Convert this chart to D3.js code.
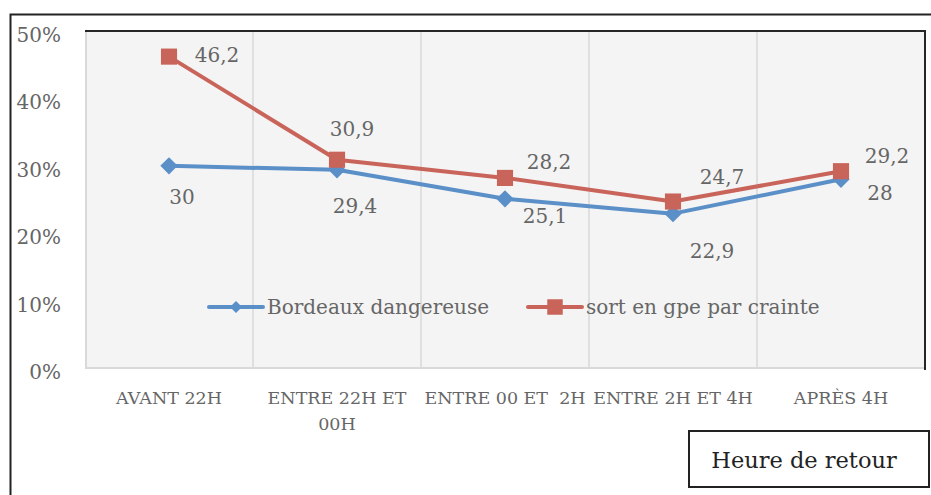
<!DOCTYPE html>
<html>
<head>
<meta charset="utf-8">
<script src="https://cdn.jsdelivr.net/npm/d3@7"></script>
<style>
  body { margin: 0; background: #fff; }
  svg { display: block; font-family: "DejaVu Serif", serif; }
</style>
</head>
<body>
<svg id="visualization"></svg>
<script>
// Chart size
const width = 931;
const height = 495;
const plot = { left: 85, top: 31, right: 925, bottom: 368 };

// Data
const categories = ["AVANT 22H", "ENTRE 22H ET 00H", "ENTRE 00 ET  2H", "ENTRE 2H ET 4H", "APRÈS 4H"];
const seriesNames = ["Bordeaux dangereuse", "sort en gpe par crainte"];
const bordeaux = [30, 29.4, 25.1, 22.9, 28];
const craintes = [46.2, 30.9, 28.2, 24.7, 29.2];
const yTicks = [0, 10, 20, 30, 40, 50];
const labelsBordeaux = ["30", "29,4", "25,1", "22,9", "28"];
const labelsCrainte = ["46,2", "30,9", "28,2", "24,7", "29,2"];

// label nudges (dx, dy) like the hand-placed Excel labels
const nudgeBlue = [[13, 31], [18, 36], [40, 17], [39, 37], [39, 14]];
const nudgeRed = [[48, -2], [15, -31], [44, -16], [49, -25], [46, -15]];

const blue = "#5b8fc8";
const red = "#c9645b";
const textGrey = "#666";

const svg = d3.select("#visualization")
  .attr("width", width)
  .attr("height", height)
  .attr("font-family", "DejaVu Serif, serif");

// outer frame (left + top)
svg.append("path")
  .attr("d", `M10.5,${height} V14.5 H${width}`)
  .attr("fill", "none")
  .attr("stroke", "#222")
  .attr("stroke-width", 2);

// plot background
svg.append("rect")
  .attr("x", plot.left)
  .attr("y", plot.top)
  .attr("width", plot.right - plot.left)
  .attr("height", plot.bottom - plot.top)
  .attr("fill", "#f4f4f4");

// Scales
const x = d3.scaleBand()
  .domain(categories)
  .range([plot.left, plot.right])
  .padding(0);

const y = d3.scaleLinear()
  .domain([0, 50])
  .range([plot.bottom, plot.top]);

const cx = c => x(c) + x.bandwidth() / 2;

// vertical grid lines at category boundaries
svg.append("g")
  .selectAll("line")
  .data(categories.slice(1))
  .join("line")
  .attr("x1", d => x(d))
  .attr("x2", d => x(d))
  .attr("y1", plot.top)
  .attr("y2", plot.bottom)
  .attr("stroke", "#d9d9d9")
  .attr("stroke-width", 1.5);

// plot borders: light left/bottom, dark top/right
svg.append("path")
  .attr("d", `M${plot.left + 1},${plot.top} V${plot.bottom} H${plot.right}`)
  .attr("fill", "none")
  .attr("stroke", "#d9d9d9")
  .attr("stroke-width", 2);
svg.append("path")
  .attr("d", `M${plot.left},${plot.top} H${plot.right} V${plot.bottom + 2}`)
  .attr("fill", "none")
  .attr("stroke", "#262626")
  .attr("stroke-width", 2);

// Y axis
const yAxis = svg.append("g")
  .attr("transform", `translate(${plot.left},4)`)
  .call(d3.axisLeft(y).tickValues(yTicks).tickSize(0).tickPadding(24).tickFormat(d => d + "%"));
yAxis.select(".domain").remove();
yAxis.selectAll("text")
  .attr("font-family", "DejaVu Serif, serif")
  .attr("font-size", 20)
  .attr("fill", textGrey);

// X axis
const xAxis = svg.append("g")
  .attr("transform", `translate(0,${plot.bottom})`)
  .call(d3.axisBottom(x).tickSize(0).tickPadding(24));
xAxis.select(".domain").remove();
xAxis.selectAll("text")
  .attr("font-family", "DejaVu Serif, serif")
  .attr("font-size", 17.5)
  .attr("fill", textGrey)
  .attr("xml:space", "preserve")
  .style("white-space", "pre")
  .each(function() { wrap(d3.select(this), x.bandwidth() - 4); });

// wrap a tick label onto several lines when it is wider than its band
function wrap(text, maxW) {
  if (text.node().getComputedTextLength() <= maxW) return;
  const words = text.text().split(/\s+/);
  const yAttr = text.attr("y");
  text.text(null);
  let line = [];
  let lineNo = 0;
  let tspan = text.append("tspan").attr("x", 0).attr("y", yAttr).attr("dy", "0.71em");
  words.forEach(w => {
    line.push(w);
    tspan.text(line.join(" "));
    if (tspan.node().getComputedTextLength() > maxW && line.length > 1) {
      line.pop();
      tspan.text(line.join(" "));
      line = [w];
      lineNo++;
      tspan = text.append("tspan").attr("x", 0).attr("y", yAttr)
        .attr("dy", (lineNo * 1.44 + 0.71) + "em").text(w);
    }
  });
}

// Lines
const line = d3.line()
  .x((d, i) => cx(categories[i]))
  .y(d => y(d));

const diamond = d3.symbol().type(d3.symbolSquare).size(150);
const square = d3.symbol().type(d3.symbolSquare).size(260);

function drawSeries(values, color, sym, rotate, labels, nudges) {
  svg.append("path")
    .datum(values)
    .attr("d", line)
    .attr("fill", "none")
    .attr("stroke", color)
    .attr("stroke-width", 4)
    .attr("stroke-linejoin", "round");
  svg.append("g")
    .selectAll("path")
    .data(values)
    .join("path")
    .attr("d", sym)
    .attr("transform", (d, i) => `translate(${cx(categories[i])},${y(d)}) rotate(${rotate})`)
    .attr("fill", color);
  svg.append("g")
    .selectAll("text")
    .data(values)
    .join("text")
    .attr("x", (d, i) => cx(categories[i]) + nudges[i][0])
    .attr("y", (d, i) => y(d) + nudges[i][1])
    .attr("dy", "0.35em")
    .attr("text-anchor", "middle")
    .attr("font-size", 20)
    .attr("fill", textGrey)
    .text((d, i) => labels[i]);
}

drawSeries(bordeaux, blue, diamond, 45, labelsBordeaux, nudgeBlue);
drawSeries(craintes, red, square, 0, labelsCrainte, nudgeRed);

// Legend
const legend = [
  { name: seriesNames[0], color: blue, x: 209, sym: d3.symbol().type(d3.symbolSquare).size(72), rot: 45 },
  { name: seriesNames[1], color: red, x: 528, sym: d3.symbol().type(d3.symbolSquare).size(240), rot: 0 }
];
const legY = 307;
const lg = svg.append("g")
  .selectAll("g")
  .data(legend)
  .join("g")
  .attr("transform", d => `translate(${d.x},${legY})`);
lg.append("line")
  .attr("x1", 0).attr("x2", 54)
  .attr("stroke", d => d.color)
  .attr("stroke-width", 4)
  .attr("stroke-linecap", "round");
lg.append("path")
  .attr("d", d => d.sym())
  .attr("transform", d => `translate(27,0) rotate(${d.rot})`)
  .attr("fill", d => d.color);
lg.append("text")
  .attr("x", 58)
  .attr("dy", "0.35em")
  .attr("font-size", 20)
  .attr("fill", textGrey)
  .text(d => d.name);

// Axis title box
svg.append("rect")
  .attr("x", 689)
  .attr("y", 431)
  .attr("width", 240)
  .attr("height", 56)
  .attr("fill", "#fff")
  .attr("stroke", "#222")
  .attr("stroke-width", 2);
svg.append("text")
  .attr("x", 804)
  .attr("y", 460)
  .attr("dy", "0.35em")
  .attr("text-anchor", "middle")
  .attr("font-size", 22.5)
  .attr("fill", "#222")
  .text("Heure de retour");
</script>
</body>
</html>
